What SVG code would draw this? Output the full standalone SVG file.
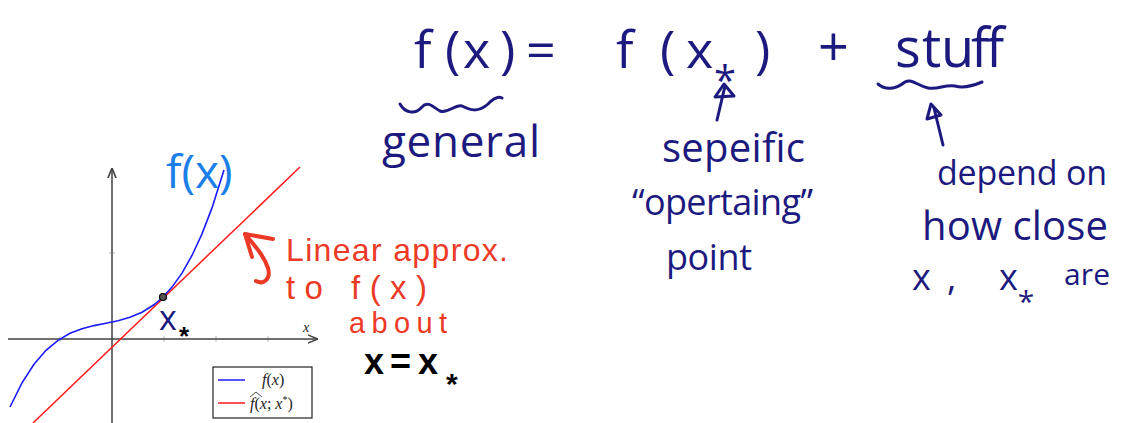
<svg xmlns="http://www.w3.org/2000/svg" width="1127" height="423" viewBox="0 0 1127 423">
<defs>
<style>
.hw{font-family:"Open Sans","DejaVu Sans",sans-serif;fill:#1c1a7e;}
.red{font-family:"Liberation Sans","Arial",sans-serif;fill:#ec3a27;}
.blk{font-family:"Liberation Sans","Arial",sans-serif;fill:#000;font-weight:bold;}
.math{font-family:"Liberation Serif","DejaVu Serif",serif;fill:#222;}
.it{font-style:italic;}
.pen{fill:none;stroke:#1c1a7e;stroke-width:3;stroke-linecap:round;stroke-linejoin:round;}
.rpen{fill:none;stroke:#ec3a27;stroke-width:4;stroke-linecap:round;stroke-linejoin:round;}
.axis{fill:none;stroke:#404040;stroke-width:1.5;}
.tick{stroke:#bdbdbd;stroke-width:1;}
</style>
<marker id="ah" viewBox="0 0 10 10" refX="9" refY="5" markerWidth="7" markerHeight="7" orient="auto">
<path d="M0,1 L10,5 L0,9" fill="none" stroke="#404040" stroke-width="1.5"/>
</marker>
</defs>
<rect width="1127" height="423" fill="#fff"/>

<g id="plot">
<line class="tick" x1="60" y1="336" x2="60" y2="342"/>
<line class="tick" x1="164" y1="336" x2="164" y2="342"/>
<line class="tick" x1="216" y1="336" x2="216" y2="342"/>
<line class="tick" x1="268" y1="336" x2="268" y2="342"/>
<line class="tick" x1="109" y1="253" x2="115" y2="253"/>
<line class="axis" x1="8" y1="339" x2="317" y2="339" marker-end="url(#ah)"/>
<line class="axis" x1="112" y1="423" x2="112" y2="169" marker-end="url(#ah)"/>
<text class="math it" x="303" y="332" font-size="14">x</text>
<line x1="33" y1="423" x2="300" y2="167" stroke="#ff1a1a" stroke-width="1.5"/>
<polyline fill="none" stroke="#1a1aff" stroke-width="1.6" points="10,407 22,382.9 34,364.2 46,350.3 58,340.3 70,333.3 82,328.7 94,325.6 106,323.2 118,320.7 130,317.3 142,312.3 154,304.8 163,297 172,287.1 182,273.1 192,255.5 202,233.9 212,207.9 224,170"/>
<circle cx="163" cy="297" r="3.5" fill="#555" stroke="#000" stroke-width="1.2"/>
</g>

<g id="legend">
<rect x="213" y="367" width="99" height="51" fill="#fff" stroke="#222" stroke-width="1.2"/>
<line x1="218" y1="380" x2="245" y2="380" stroke="#1a1aff" stroke-width="1.5"/>
<line x1="218" y1="403" x2="245" y2="403" stroke="#ff1a1a" stroke-width="1.5"/>
<text class="math" x="262" y="385" font-size="16"><tspan class="it">f</tspan>(<tspan class="it">x</tspan>)</text>
<text class="math" x="250" y="409" font-size="16"><tspan class="it">f</tspan>(<tspan class="it">x</tspan>; <tspan class="it">x</tspan><tspan font-size="10" dy="-6">*</tspan><tspan dy="6">)</tspan></text>
<path d="M250,397 L256,392 L262,397" fill="none" stroke="#222" stroke-width="0.8"/>
</g>

<g id="label-fx-blue">
<text x="166" y="188" font-size="46" font-family="Open Sans, DejaVu Sans, sans-serif" fill="#1a7fe8">f(x)</text>
</g>

<g id="label-xstar">
<text class="hw" x="159" y="330" font-size="34">x</text>
<text class="blk" x="179" y="345" font-size="26">*</text>
</g>

<g id="equation">
<text class="hw" x="414 445 463 500 526" y="68" font-size="52">f(x)=</text>
<text class="hw" x="616 660 686" y="68" font-size="52">f(x</text>
<text class="hw" x="714" y="95" font-size="40">*</text>
<text class="hw" x="755" y="68" font-size="52">)</text>
<text class="hw" x="818" y="66" font-size="54">+</text>
<text class="hw" x="895 922 941 971 986" y="67" font-size="54">stuff</text>
</g>

<g id="general">
<text class="hw" x="382" y="157" font-size="44" textLength="158">general</text>
</g>

<g id="specific">
<text class="hw" x="662" y="162" font-size="40" textLength="143">sepeific</text>
<text class="hw" x="632" y="215" font-size="36" textLength="181">“opertaing”</text>
<text class="hw" x="666" y="270" font-size="36" textLength="86">point</text>
</g>

<g id="depend">
<text class="hw" x="937" y="185" font-size="34" textLength="170">depend on</text>
<text class="hw" x="922" y="240" font-size="40" textLength="186">how close</text>
<text class="hw" x="912 947" y="290" font-size="36">x,</text>
<text class="hw" x="999" y="290" font-size="36">x<tspan font-size="30" dy="22">*</tspan></text>
<text class="hw" x="1064" y="285" font-size="30" textLength="46">are</text>
</g>

<g id="linear-approx">
<text class="red" x="286" y="261" font-size="32" textLength="222">Linear approx.</text>
<text class="red" x="286" y="299" font-size="33" textLength="141">to f(x)</text>
<text class="red" x="349" y="333" font-size="29" textLength="98">about</text>
<text class="blk" x="364 390 418" y="374" font-size="36">x=x</text>
<text class="blk" x="446" y="394" font-size="30">*</text>
</g>

<g id="connectors">
<path class="pen" d="M400,104 C405,113 415,115 422,107 C428,100 434,108 440,111 C448,114 455,104 462,106 C470,110 478,113 488,104 C493,99 498,96 502,98"/>
<path class="pen" d="M878,84 C885,90 895,90 905,82 C912,78 918,86 928,88 C938,90 945,84 955,86 C965,89 975,85 982,82"/>
<path class="pen" d="M717,120 L725,86"/>
<path class="pen" d="M715,97 L724,84 L734,96 Z"/>
<path class="pen" d="M943,145 L934,108"/>
<path class="pen" d="M927,119 L931,104 L941,115 Z"/>
<path class="rpen" d="M273,239 L245,234 L252,257"/>
<path class="rpen" d="M245,234 C255,246 264,256 268,268 C271,279 264,285 256,281"/>
</g>
</svg>
